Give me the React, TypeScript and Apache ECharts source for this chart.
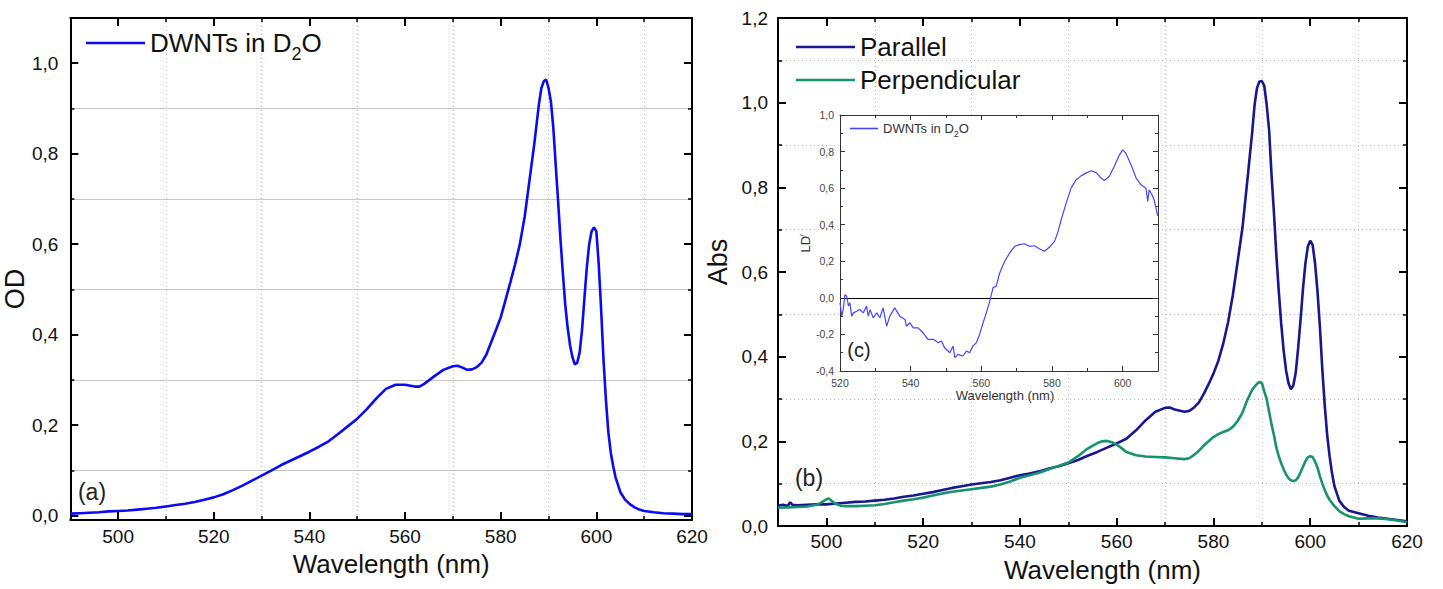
import React, { useEffect, useRef } from "react";
import * as echarts from "echarts";

const FONT = '"Liberation Sans", Arial, Helvetica, sans-serif';

// ---- (a) OD spectrum: [wavelength nm, OD]
const odA: number[][] = [
  [490, 0.004], [492, 0.005], [494, 0.006], [496, 0.007], [498, 0.009], [500, 0.010],
  [502, 0.011], [504, 0.013], [506, 0.015], [508, 0.017], [510, 0.020], [512, 0.023],
  [514, 0.026], [516, 0.030], [518, 0.035], [520, 0.040], [522, 0.047], [524, 0.056],
  [526, 0.066], [528, 0.077], [530, 0.088], [532, 0.099], [534, 0.111], [536, 0.121],
  [538, 0.131], [540, 0.141], [542, 0.152], [544, 0.164], [546, 0.180], [548, 0.197],
  [550, 0.214], [552, 0.235], [554, 0.259], [556, 0.280], [558, 0.289], [560, 0.289],
  [562, 0.285], [563, 0.285], [564, 0.291], [566, 0.307], [568, 0.322], [570, 0.330],
  [571, 0.331], [572, 0.327], [573, 0.322], [574, 0.323], [575, 0.328], [576, 0.338],
  [577, 0.356], [578, 0.383], [579, 0.410], [580, 0.438], [581, 0.476], [582, 0.515],
  [583, 0.555], [584, 0.600], [585, 0.660], [586, 0.740], [587, 0.820], [588, 0.910],
  [588.5, 0.945], [589, 0.960], [589.5, 0.964], [590, 0.945], [590.5, 0.915], [591, 0.857],
  [591.5, 0.775], [592, 0.695], [592.5, 0.610], [593, 0.535], [593.5, 0.465], [594, 0.415],
  [594.5, 0.376], [595, 0.350], [595.5, 0.334], [596, 0.338], [596.5, 0.360], [597, 0.410],
  [597.5, 0.480], [598, 0.548], [598.5, 0.600], [599, 0.628], [599.5, 0.637], [600, 0.628],
  [600.5, 0.555], [601, 0.455], [601.5, 0.343], [602, 0.255], [602.5, 0.185], [603, 0.140],
  [603.5, 0.110], [604, 0.085], [605, 0.052], [606, 0.035], [607, 0.025], [608, 0.018],
  [609, 0.013], [610, 0.010], [612, 0.007], [614, 0.005], [616, 0.004], [618, 0.003],
  [620, 0.003],
];

// ---- (b) polarised absorbance: [wavelength nm, Abs]
const parallelB: number[][] = [
  [490, 0.048], [491, 0.050], [492, 0.047], [492.5, 0.056], [493, 0.050], [494, 0.049],
  [496, 0.050], [498, 0.051], [500, 0.051], [502, 0.053], [504, 0.055], [506, 0.057],
  [508, 0.058], [510, 0.060], [512, 0.062], [514, 0.065], [516, 0.069], [518, 0.072],
  [520, 0.076], [522, 0.080], [524, 0.085], [526, 0.090], [528, 0.094], [530, 0.098],
  [532, 0.101], [534, 0.104], [536, 0.108], [538, 0.114], [540, 0.120], [542, 0.124],
  [544, 0.129], [546, 0.136], [548, 0.141], [550, 0.148], [552, 0.156], [554, 0.166],
  [556, 0.175], [558, 0.185], [560, 0.195], [562, 0.206], [564, 0.226], [566, 0.250],
  [568, 0.270], [570, 0.279], [571, 0.280], [572, 0.275], [574, 0.270], [575, 0.272],
  [576, 0.280], [577, 0.292], [578, 0.312], [579, 0.335], [580, 0.360], [581, 0.390],
  [582, 0.430], [583, 0.480], [584, 0.545], [585, 0.625], [586, 0.705], [587, 0.816],
  [588, 0.930], [588.5, 0.995], [589, 1.035], [589.5, 1.050], [590, 1.051], [590.5, 1.040],
  [591, 0.995], [591.5, 0.935], [592, 0.830], [592.5, 0.740], [593, 0.640], [593.5, 0.555],
  [594, 0.478], [594.5, 0.415], [595, 0.368], [595.5, 0.338], [596, 0.323], [596.5, 0.332],
  [597, 0.362], [597.5, 0.420], [598, 0.487], [598.5, 0.560], [599, 0.620], [599.5, 0.660],
  [600, 0.674], [600.5, 0.664], [601, 0.620], [601.5, 0.555], [602, 0.470], [602.5, 0.370],
  [603, 0.285], [603.5, 0.215], [604, 0.165], [604.5, 0.125], [605, 0.094], [606, 0.060],
  [607, 0.045], [608, 0.036], [609, 0.033], [610, 0.030], [612, 0.024], [614, 0.020],
  [616, 0.017], [618, 0.014], [620, 0.011],
];

const perpendicularB: number[][] = [
  [490, 0.043], [492, 0.044], [494, 0.045], [496, 0.046], [498, 0.050], [499, 0.056],
  [500, 0.063], [500.5, 0.065], [501, 0.060], [502, 0.052], [503, 0.048], [504, 0.047],
  [506, 0.047], [508, 0.048], [510, 0.049], [512, 0.052], [514, 0.056], [516, 0.060],
  [518, 0.063], [520, 0.067], [522, 0.072], [524, 0.077], [526, 0.081], [528, 0.084],
  [530, 0.087], [532, 0.090], [534, 0.093], [536, 0.098], [538, 0.105], [540, 0.114],
  [542, 0.120], [544, 0.126], [546, 0.134], [548, 0.142], [550, 0.150], [552, 0.165],
  [554, 0.183], [556, 0.196], [557, 0.200], [558, 0.201], [559, 0.198], [560, 0.192],
  [561, 0.184], [562, 0.175], [564, 0.167], [566, 0.164], [568, 0.163], [570, 0.162],
  [572, 0.160], [574, 0.158], [575, 0.160], [576, 0.168], [577, 0.178], [578, 0.190],
  [579, 0.200], [580, 0.210], [581, 0.217], [582, 0.222], [583, 0.226], [584, 0.234],
  [585, 0.248], [586, 0.268], [587, 0.298], [588, 0.322], [589, 0.336], [589.5, 0.340],
  [590, 0.338], [590.5, 0.318], [591, 0.300], [591.5, 0.270], [592, 0.240], [592.5, 0.215],
  [593, 0.185], [593.5, 0.165], [594, 0.148], [594.5, 0.134], [595, 0.122], [595.5, 0.113],
  [596, 0.108], [596.5, 0.106], [597, 0.108], [597.5, 0.115], [598, 0.127], [598.5, 0.140],
  [599, 0.153], [599.5, 0.162], [600, 0.165], [600.5, 0.163], [601, 0.152], [601.5, 0.138],
  [602, 0.118], [602.5, 0.100], [603, 0.085], [603.5, 0.072], [604, 0.062], [605, 0.047],
  [606, 0.035], [607, 0.028], [608, 0.023], [609, 0.020], [610, 0.017], [612, 0.018],
  [614, 0.018], [616, 0.016], [618, 0.013], [620, 0.009],
];

// ---- (c) reduced linear dichroism: [wavelength nm, LD^r]
const ldC: number[][] = [
  [520.0, -0.027], [520.5, -0.100], [520.9, -0.064], [521.4, 0.018], [521.9, 0.009],
  [522.4, -0.045], [522.8, -0.027], [523.3, -0.100], [523.8, -0.082], [524.7, -0.073],
  [525.6, -0.064], [526.6, -0.082], [527.5, -0.045], [528.0, -0.100], [528.5, -0.064],
  [529.4, -0.109], [530.4, -0.082], [531.3, -0.109], [532.2, -0.055], [533.2, -0.155],
  [534.1, -0.100], [535.5, -0.055], [536.9, -0.100], [538.4, -0.118], [538.8, -0.155],
  [539.8, -0.136], [540.7, -0.164], [542.1, -0.164], [543.5, -0.191], [544.9, -0.227],
  [546.4, -0.227], [547.8, -0.245], [548.7, -0.236], [549.6, -0.273], [551.1, -0.300],
  [552.0, -0.264], [552.5, -0.327], [553.4, -0.309], [554.8, -0.318], [555.8, -0.291],
  [556.7, -0.300], [557.6, -0.264], [558.6, -0.245], [559.5, -0.200], [560.5, -0.136],
  [561.4, -0.082], [562.4, -0.018], [563.3, 0.055], [564.2, 0.064], [565.2, 0.136],
  [566.6, 0.200], [568.0, 0.245], [569.4, 0.282], [570.8, 0.291], [572.2, 0.296],
  [573.6, 0.282], [575.1, 0.285], [576.5, 0.267], [577.9, 0.255], [579.3, 0.278],
  [580.7, 0.309], [581.6, 0.355], [582.6, 0.427], [584.0, 0.518], [585.4, 0.600],
  [586.8, 0.645], [588.2, 0.667], [589.6, 0.682], [591.1, 0.695], [592.5, 0.685],
  [593.9, 0.655], [594.8, 0.642], [596.2, 0.664], [597.6, 0.718], [599.1, 0.782],
  [600.0, 0.809], [600.9, 0.791], [602.4, 0.727], [603.8, 0.655], [605.2, 0.618],
  [606.6, 0.600], [607.1, 0.527], [607.5, 0.591], [608.3, 0.564], [608.9, 0.536],
  [609.9, 0.449],
];

const comma = (v: number) => v.toFixed(1).replace(".", ",");
const intFmt = (v: number) => String(Math.round(v));

type AxisCfg = {
  grid: number;
  position: string;
  min: number;
  max: number;
  interval?: number;
  splitNumber?: number;
  labels?: boolean;
  labelSize?: number;
  labelMargin?: number;
  labelColor?: string;
  formatter?: (v: number) => string;
  hideMin?: boolean;
  hideMax?: boolean;
  color: string;
  lw: number;
  tl: number;
  ml: number;
  tw: number;
  mw: number;
  minorSplit?: { color: string; type: any };
  name?: string;
  nameGap?: number;
  nameStyle?: any;
  z?: number;
};

function axis(c: AxisCfg) {
  return {
    type: "value",
    gridIndex: c.grid,
    position: c.position,
    min: c.min,
    max: c.max,
    interval: c.interval,
    splitNumber: c.splitNumber,
    z: c.z ?? 0,
    axisLine: { show: true, onZero: false, lineStyle: { color: c.color, width: c.lw } },
    axisTick: { show: true, inside: true, length: c.tl, lineStyle: { color: c.color, width: c.tw } },
    minorTick: { show: true, splitNumber: 2, length: c.ml, lineStyle: { color: c.color, width: c.mw } },
    splitLine: { show: false },
    minorSplitLine: c.minorSplit
      ? { show: true, lineStyle: { color: c.minorSplit.color, width: 1, type: c.minorSplit.type } }
      : { show: false },
    axisLabel: c.labels
      ? {
          show: true,
          fontFamily: FONT,
          fontSize: c.labelSize,
          color: c.labelColor ?? "#111",
          margin: c.labelMargin,
          formatter: c.formatter,
          showMinLabel: c.hideMin ? false : true,
          showMaxLabel: c.hideMax ? false : true,
        }
      : { show: false },
    name: c.name,
    nameLocation: "middle",
    nameGap: c.nameGap,
    nameTextStyle: c.nameStyle,
  };
}

const big = { color: "#000", lw: 2, tl: 8, ml: 4, tw: 2, mw: 1.5 };
const small = { color: "#333", lw: 1, tl: 5, ml: 3, tw: 1, mw: 1 };

const solidGrid = { color: "#c6c6c6", type: "solid" };
const dotGrid = { color: "#b4b4b4", type: [1, 3] };

const subRich = (size: number, sub: number, pad: number, color: string) => ({
  m: { fontFamily: FONT, fontSize: size, color },
  s: { fontFamily: FONT, fontSize: sub, color, padding: [pad, 0, 0, 0] },
});

const option = {
  animation: false,
  backgroundColor: "#fff",
  textStyle: { fontFamily: FONT },
  grid: [
    { left: 69, top: 18, width: 623, height: 502 },
    { left: 778, top: 18, width: 629, height: 508 },
    { left: 840, top: 115, width: 318, height: 256, show: true, backgroundColor: "#fff", borderWidth: 0, z: 3 },
  ],
  xAxis: [
    axis({
      grid: 0, position: "bottom", min: 490, max: 620, splitNumber: 6, labels: true, labelSize: 19,
      labelMargin: 7, formatter: intFmt, hideMin: true, ...big, minorSplit: dotGrid,
      name: "Wavelength (nm)", nameGap: 29,
      nameStyle: { fontFamily: FONT, fontSize: 26, color: "#111", padding: [0, 0, 0, 20] },
    }),
    axis({ grid: 0, position: "top", min: 490, max: 620, splitNumber: 6, ...big }),
    axis({
      grid: 1, position: "bottom", min: 490, max: 620, splitNumber: 6, labels: true, labelSize: 19,
      labelMargin: 6, formatter: intFmt, hideMin: true, ...big, minorSplit: dotGrid,
      name: "Wavelength (nm)", nameGap: 31,
      nameStyle: { fontFamily: FONT, fontSize: 26, color: "#111", padding: [0, 0, 0, 20] },
    }),
    axis({ grid: 1, position: "top", min: 490, max: 620, splitNumber: 6, ...big }),
    axis({
      grid: 2, position: "bottom", min: 520, max: 610, interval: 20, labels: true, labelSize: 10.5,
      labelMargin: 6, labelColor: "#444", formatter: intFmt, hideMax: true, ...small, z: 5,
      name: "Wavelength (nm)", nameGap: 16,
      nameStyle: { fontFamily: FONT, fontSize: 13, color: "#333", padding: [0, 0, 0, 12] },
    }),
    axis({ grid: 2, position: "top", min: 520, max: 610, interval: 20, ...small, z: 5 }),
  ],
  yAxis: [
    axis({
      grid: 0, position: "left", min: -0.01, max: 1.1, splitNumber: 5, labels: true, labelSize: 19,
      labelMargin: 12, formatter: comma, hideMin: true, hideMax: true, ...big, minorSplit: solidGrid,
      name: "OD", nameGap: 36,
      nameStyle: { fontFamily: FONT, fontSize: 27, color: "#111", padding: [0, 40, 0, 0] },
    }),
    axis({ grid: 0, position: "right", min: -0.01, max: 1.1, splitNumber: 5, ...big }),
    axis({
      grid: 1, position: "left", min: 0, max: 1.2, interval: 0.2, labels: true, labelSize: 19,
      labelMargin: 10, formatter: comma, ...big, minorSplit: dotGrid,
      name: "Abs", nameGap: 47,
      nameStyle: { fontFamily: FONT, fontSize: 27, color: "#111", padding: [0, 0, 0, 20] },
    }),
    axis({ grid: 1, position: "right", min: 0, max: 1.2, interval: 0.2, ...big }),
    axis({
      grid: 2, position: "left", min: -0.4, max: 1.0, interval: 0.2, labels: true, labelSize: 10.5,
      labelMargin: 6, labelColor: "#444", formatter: comma, ...small, z: 5,
      name: "LD{sup|r}", nameGap: 22,
      nameStyle: {
        fontFamily: FONT, fontSize: 13, color: "#333",
        rich: { sup: { fontFamily: FONT, fontSize: 7, color: "#333", padding: [0, 0, 8, 0] } },
      },
    }),
    axis({ grid: 2, position: "right", min: -0.4, max: 1.0, interval: 0.2, ...small, z: 5 }),
  ],
  legend: [
    {
      data: ["DWNTs in D2O (a)"],
      left: 86, top: 30, padding: 0, icon: "rect", itemWidth: 59, itemHeight: 2.6, selectedMode: false,
      formatter: () => "{m|DWNTs in D}{s|2}{m|O}",
      textStyle: { fontFamily: FONT, fontSize: 26, color: "#111", rich: subRich(26, 18, 23, "#111") },
    },
    {
      data: ["Parallel", "Perpendicular"],
      orient: "vertical",
      left: 796, top: 34, padding: 0, icon: "rect", itemGap: 7, itemWidth: 59, itemHeight: 2.6,
      selectedMode: false,
      textStyle: { fontFamily: FONT, fontSize: 26, color: "#111" },
    },
    {
      data: ["DWNTs in D2O (c)"],
      left: 850, top: 122, padding: 0, icon: "rect", itemWidth: 28, itemHeight: 1.6, selectedMode: false, z: 6,
      formatter: () => "{m|DWNTs in D}{s|2}{m|O}",
      textStyle: { fontFamily: FONT, fontSize: 13, color: "#333", rich: subRich(13, 9, 11, "#333") },
    },
  ],
  graphic: [
    { type: "text", z: 10, style: { text: "(a)", x: 92, y: 492, textAlign: "center", textVerticalAlign: "middle", fontFamily: FONT, fontSize: 23, fill: "#222" } },
    { type: "text", z: 10, style: { text: "(b)", x: 809, y: 478, textAlign: "center", textVerticalAlign: "middle", fontFamily: FONT, fontSize: 23, fill: "#222" } },
    { type: "text", z: 10, style: { text: "(c)", x: 859, y: 350, textAlign: "center", textVerticalAlign: "middle", fontFamily: FONT, fontSize: 20, fill: "#222" } },
  ],
  series: [
    {
      name: "DWNTs in D2O (a)", type: "line", xAxisIndex: 0, yAxisIndex: 0, data: odA,
      symbol: "none", color: "#0a0af5", lineStyle: { width: 2.6, color: "#0a0af5" }, z: 4,
    },
    {
      name: "Parallel", type: "line", xAxisIndex: 2, yAxisIndex: 2, data: parallelB,
      symbol: "none", color: "#17178f", lineStyle: { width: 2.6, color: "#17178f" }, z: 4,
    },
    {
      name: "Perpendicular", type: "line", xAxisIndex: 2, yAxisIndex: 2, data: perpendicularB,
      symbol: "none", color: "#17936e", lineStyle: { width: 2.6, color: "#17936e" }, z: 4,
    },
    {
      name: "DWNTs in D2O (c)", type: "line", xAxisIndex: 4, yAxisIndex: 4, data: ldC,
      symbol: "none", color: "#4646ff", lineStyle: { width: 1.2, color: "#4646ff" }, z: 6,
      markLine: {
        silent: true, symbol: ["none", "none"], label: { show: false },
        lineStyle: { color: "#000", width: 1, type: "solid" },
        data: [{ yAxis: 0 }],
      },
    },
  ],
};

export default function App() {
  const ref = useRef<HTMLDivElement>(null);
  useEffect(() => {
    if (!ref.current) return;
    const chart = echarts.init(ref.current, null, { renderer: "svg" });
    chart.setOption(option as any);
    return () => chart.dispose();
  }, []);
  return (
    <div
      ref={ref}
      style={{ position: "absolute", left: 0, top: 0, width: 1443, height: 589, background: "#fff" }}
    />
  );
}
